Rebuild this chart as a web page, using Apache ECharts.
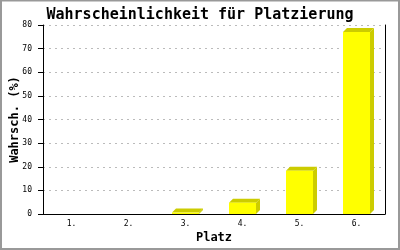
<!DOCTYPE html>
<html>
<head>
<meta charset="utf-8">
<script src="https://cdn.jsdelivr.net/npm/echarts@6/dist/echarts.min.js"></script>
<style>
html,body{margin:0;padding:0;background:#fff;}
#c{width:400px;height:250px;}
</style>
</head>
<body>
<div id="c"></div>
<script>
const categories = ["1.", "2.", "3.", "4.", "5.", "6."];
const values = [0, 0, 0.6, 4.8, 18.3, 77];
const yTicks = [0, 10, 20, 30, 40, 50, 60, 70, 80];

const chart = echarts.init(document.getElementById('c'), null, {renderer: 'canvas'});
const mono = '"DejaVu Sans Mono", "Liberation Mono", monospace';
const DEPTH = 4;

function renderItem(params, api) {
  const v = api.value(1);
  if (!v) return null;
  const top = api.coord([api.value(0), v]);
  const base = api.coord([api.value(0), 0]);
  const w = api.size([1, 0])[0] * 0.47;
  const x0 = Math.round(top[0] - w / 2);
  const x1 = Math.round(top[0] + w / 2);
  const yt = top[1];
  const yb = base[1];
  const d = DEPTH;
  return {
    type: 'group',
    children: [
      {type: 'polygon', shape: {points: [[x1, yt], [x1 + d, yt - d], [x1 + d, yb - d], [x1, yb]]}, style: {fill: '#cccc00'}},
      {type: 'polygon', shape: {points: [[x0, yt], [x0 + d, yt - d], [x1 + d, yt - d], [x1, yt]]}, style: {fill: '#cccc00'}},
      {type: 'rect', shape: {x: x0, y: yt, width: x1 - x0, height: yb - yt}, style: {fill: '#ffff00'}}
    ]
  };
}

chart.setOption({
  animation: false,
  backgroundColor: '#fff',
  title: {
    text: 'Wahrscheinlichkeit für Platzierung',
    left: 'center',
    top: 3,
    textStyle: {fontFamily: mono, fontWeight: 'bold', fontSize: 15, color: '#000'}
  },
  graphic: [{
    type: 'rect', shape: {x: 1, y: 0.5, width: 398, height: 248.5},
    style: {fill: 'none', stroke: '#999', lineWidth: 2}, silent: true
  }],
  grid: {left: 43, right: 15, top: 25, bottom: 36, containLabel: false, outerBoundsMode: 'none'},
  xAxis: {
    type: 'category',
    data: categories,
    name: 'Platz',
    nameLocation: 'middle',
    nameGap: 18,
    nameMoveOverlap: false,
    nameTextStyle: {fontFamily: mono, fontWeight: 'bold', fontSize: 12, color: '#000'},
    axisLine: {lineStyle: {color: '#000', width: 1}},
    axisTick: {show: false},
    axisLabel: {fontFamily: mono, fontSize: 8, color: '#000', margin: 6},
    splitLine: {show: false}
  },
  yAxis: [{
    type: 'value',
    min: 0, max: 80, interval: 10,
    name: 'Wahrsch. (%)',
    nameLocation: 'middle',
    nameGap: 22,
    nameMoveOverlap: false,
    nameTextStyle: {fontFamily: mono, fontWeight: 'bold', fontSize: 12, color: '#000'},
    axisLine: {show: true, lineStyle: {color: '#000', width: 1}},
    axisTick: {show: true, length: 5, lineStyle: {color: '#000'}},
    axisLabel: {fontFamily: mono, fontSize: 8, color: '#000', margin: 11,
      formatter: function (v) { return yTicks.indexOf(v) >= 0 ? String(v) : ''; }},
    splitLine: {show: true, lineStyle: {color: '#bbb', type: [2, 4], width: 1}}
  }, {
    type: 'value',
    min: 0, max: 80, interval: 10,
    position: 'right',
    axisLine: {show: true, lineStyle: {color: '#000', width: 1}},
    axisTick: {show: false},
    axisLabel: {show: false},
    splitLine: {show: false}
  }],
  series: [{
    type: 'custom',
    renderItem: renderItem,
    data: categories.map((c, i) => [i, values[i]]),
    encode: {x: 0, y: 1},
    clip: false
  }]
});
</script>
</body>
</html>
